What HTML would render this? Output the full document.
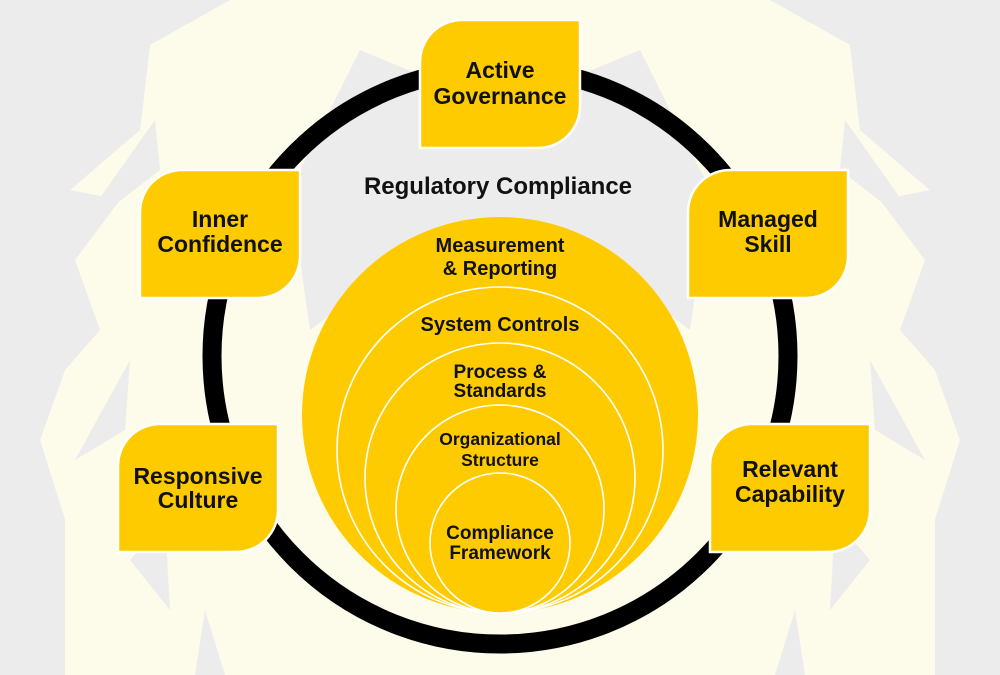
<!DOCTYPE html>
<html><head><meta charset="utf-8"><style>
html,body{margin:0;padding:0;background:#ececec;}
svg{display:block}
text{font-family:"Liberation Sans",Arial,sans-serif;font-weight:bold;fill:#111;text-anchor:middle}
</style></head><body>
<svg width="1000" height="675" viewBox="0 0 1000 675" xmlns="http://www.w3.org/2000/svg">
<rect width="1000" height="675" fill="#ececec"/>
<!-- lion mane silhouette -->
<polygon fill="#fdfbea" points="150,45 230,0 770,0 850,45 860,130 930,190 880,200 925,260 900,330 935,370 960,440 935,520 935,675 65,675 65,520 40,440 65,370 100,330 75,260 120,200 70,190 140,130"/>
<!-- gray head -->
<polygon fill="#ececec" points="300,170 330,110 360,50 420,75 580,75 640,50 670,110 700,170 720,200 700,260 690,330 650,300 620,260 380,260 350,300 310,330 300,260 280,200"/>
<!-- side spikes -->
<polygon fill="#ececec" points="155,120 70,240 160,170"/>
<polygon fill="#ececec" points="845,120 930,240 840,170"/>
<polygon fill="#ececec" points="130,360 75,460 125,430"/>
<polygon fill="#ececec" points="870,360 925,460 875,430"/>
<polygon fill="#ececec" points="0,0 150,45 140,130 70,190 65,370 40,440 65,520 65,675 0,675"/>
<polygon fill="#ececec" points="1000,0 850,45 860,130 930,190 935,370 960,440 935,520 935,675 1000,675"/>
<polygon fill="#ececec" points="130,560 165,520 170,610"/>
<polygon fill="#ececec" points="870,560 835,520 830,610"/>
<polygon fill="#ececec" points="195,675 205,610 225,675"/>
<polygon fill="#ececec" points="805,675 795,610 775,675"/>
<!-- ring -->
<circle cx="500" cy="356" r="288" fill="none" stroke="#000" stroke-width="19"/>
<!-- nested circles -->
<g fill="#fecb00" stroke="#fff" stroke-width="1.6">
<circle cx="500" cy="415" r="198" stroke-width="0"/>
<circle cx="500" cy="450" r="163"/>
<circle cx="500" cy="478" r="135"/>
<circle cx="500" cy="509" r="104"/>
<circle cx="500" cy="543" r="70"/>
</g>
<text x="498" y="194" font-size="24">Regulatory Compliance</text>
<g font-size="20">
<text x="500" y="252">Measurement</text>
<text x="500" y="275">&amp; Reporting</text>
<text x="500" y="331">System Controls</text>
<text x="500" y="378" font-size="19">Process &amp;</text>
<text x="500" y="397" font-size="19">Standards</text>
<text x="500" y="445" font-size="17.5">Organizational</text>
<text x="500" y="466" font-size="17.5">Structure</text>
<text x="500" y="539" font-size="19">Compliance</text>
<text x="500" y="559" font-size="19">Framework</text>
</g>
<defs>
<path id="leaf" d="M42,0 H160 V86 A42,42 0 0 1 118,128 H0 V42 A42,42 0 0 1 42,0 Z"/>
</defs>
<g fill="#fecb00" stroke="#fff" stroke-width="2.5">
<use href="#leaf" x="420" y="20"/>
<use href="#leaf" x="140" y="170"/>
<use href="#leaf" x="688" y="170"/>
<use href="#leaf" x="118" y="424"/>
<use href="#leaf" x="710" y="424"/>
</g>
<g font-size="23">
<text x="500" y="78">Active</text>
<text x="500" y="104">Governance</text>
<text x="220" y="227">Inner</text>
<text x="220" y="252">Confidence</text>
<text x="768" y="227">Managed</text>
<text x="768" y="252">Skill</text>
<text x="198" y="484">Responsive</text>
<text x="198" y="508">Culture</text>
<text x="790" y="477">Relevant</text>
<text x="790" y="502">Capability</text>
</g>
</svg>
</body></html>
